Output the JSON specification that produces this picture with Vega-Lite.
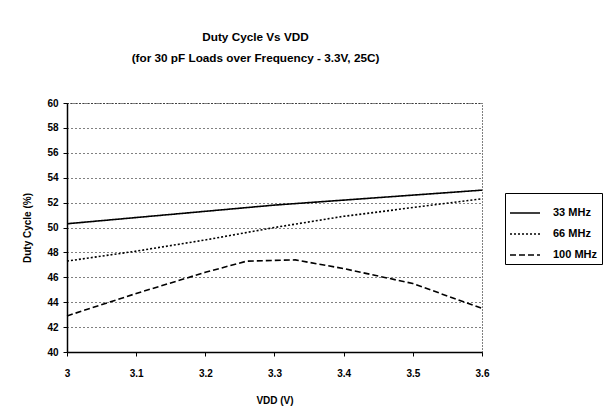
{
  "$schema": "https://vega.github.io/schema/vega-lite/v6.json",
  "autosize": {"type": "none"},
  "width": 415,
  "height": 249,
  "padding": {"left": 67, "top": 103, "right": 124, "bottom": 67},
  "background": "white",
  "title": {
    "text": ["Duty Cycle Vs VDD", "(for 30 pF Loads over Frequency - 3.3V, 25C)"],
    "font": "Liberation Sans",
    "fontSize": 11.75,
    "fontWeight": "bold",
    "lineHeight": 21,
    "offset": 33,
    "dx": -19,
    "color": "black"
  },
  "config": {
    "view": {"stroke": "black", "strokeDash": [1, 2], "strokeWidth": 1},
    "font": "Liberation Sans"
  },
  "data": {
    "values": [
      {"vdd": 3.0, "duty": 50.3, "series": "33 MHz"},
      {"vdd": 3.1, "duty": 50.8, "series": "33 MHz"},
      {"vdd": 3.2, "duty": 51.3, "series": "33 MHz"},
      {"vdd": 3.3, "duty": 51.8, "series": "33 MHz"},
      {"vdd": 3.4, "duty": 52.2, "series": "33 MHz"},
      {"vdd": 3.5, "duty": 52.6, "series": "33 MHz"},
      {"vdd": 3.6, "duty": 53.0, "series": "33 MHz"},
      {"vdd": 3.0, "duty": 47.3, "series": "66 MHz"},
      {"vdd": 3.1, "duty": 48.1, "series": "66 MHz"},
      {"vdd": 3.2, "duty": 49.0, "series": "66 MHz"},
      {"vdd": 3.3, "duty": 50.0, "series": "66 MHz"},
      {"vdd": 3.4, "duty": 50.9, "series": "66 MHz"},
      {"vdd": 3.5, "duty": 51.6, "series": "66 MHz"},
      {"vdd": 3.6, "duty": 52.3, "series": "66 MHz"},
      {"vdd": 3.0, "duty": 42.9, "series": "100 MHz"},
      {"vdd": 3.1, "duty": 44.7, "series": "100 MHz"},
      {"vdd": 3.2, "duty": 46.4, "series": "100 MHz"},
      {"vdd": 3.26, "duty": 47.3, "series": "100 MHz"},
      {"vdd": 3.33, "duty": 47.4, "series": "100 MHz"},
      {"vdd": 3.4, "duty": 46.7, "series": "100 MHz"},
      {"vdd": 3.5, "duty": 45.5, "series": "100 MHz"},
      {"vdd": 3.6, "duty": 43.5, "series": "100 MHz"}
    ]
  },
  "mark": {"type": "line", "color": "black", "strokeWidth": 1.6},
  "encoding": {
    "x": {
      "field": "vdd",
      "type": "quantitative",
      "scale": {"domain": [3, 3.6], "nice": false, "zero": false},
      "axis": {
        "title": "VDD (V)",
        "values": [3, 3.1, 3.2, 3.3, 3.4, 3.5, 3.6],
        "format": "~g",
        "grid": false,
        "domainColor": "black",
        "domainWidth": 1.5,
        "tickColor": "black",
        "tickSize": 4,
        "labelFont": "Liberation Sans",
        "labelFontSize": 10,
        "labelFontWeight": "bold",
        "labelColor": "black",
        "labelPadding": 12,
        "labelFlush": false,
        "titleFont": "Liberation Sans",
        "titleFontSize": 10,
        "titleFontWeight": "bold",
        "titleColor": "black",
        "titlePadding": 17
      }
    },
    "y": {
      "field": "duty",
      "type": "quantitative",
      "scale": {"domain": [40, 60], "nice": false, "zero": false},
      "axis": {
        "title": "Duty Cycle (%)",
        "values": [40, 42, 44, 46, 48, 50, 52, 54, 56, 58, 60],
        "grid": true,
        "gridColor": "black",
        "gridDash": [1, 3],
        "gridWidth": 1,
        "domainColor": "black",
        "domainWidth": 1.5,
        "tickColor": "black",
        "tickSize": 4,
        "labelFont": "Liberation Sans",
        "labelFontSize": 10,
        "labelFontWeight": "bold",
        "labelColor": "black",
        "labelPadding": 5,
        "titleFont": "Liberation Sans",
        "titleFontSize": 10,
        "titleFontWeight": "bold",
        "titleColor": "black",
        "titlePadding": 14
      }
    },
    "strokeDash": {
      "field": "series",
      "type": "nominal",
      "sort": ["33 MHz", "66 MHz", "100 MHz"],
      "scale": {
        "domain": ["33 MHz", "66 MHz", "100 MHz"],
        "range": [[1, 0], [2, 2], [6, 3]]
      },
      "legend": {
        "title": null,
        "orient": "none",
        "legendX": 438,
        "legendY": 90,
        "strokeColor": "black",
        "padding": 4,
        "symbolType": "stroke",
        "symbolSize": 900,
        "symbolStrokeWidth": 1.5,
        "symbolStrokeColor": "black",
        "labelFont": "Liberation Sans",
        "labelFontSize": 11,
        "labelFontWeight": "bold",
        "labelColor": "black",
        "labelOffset": 12,
        "rowPadding": 0
      }
    }
  }
}
